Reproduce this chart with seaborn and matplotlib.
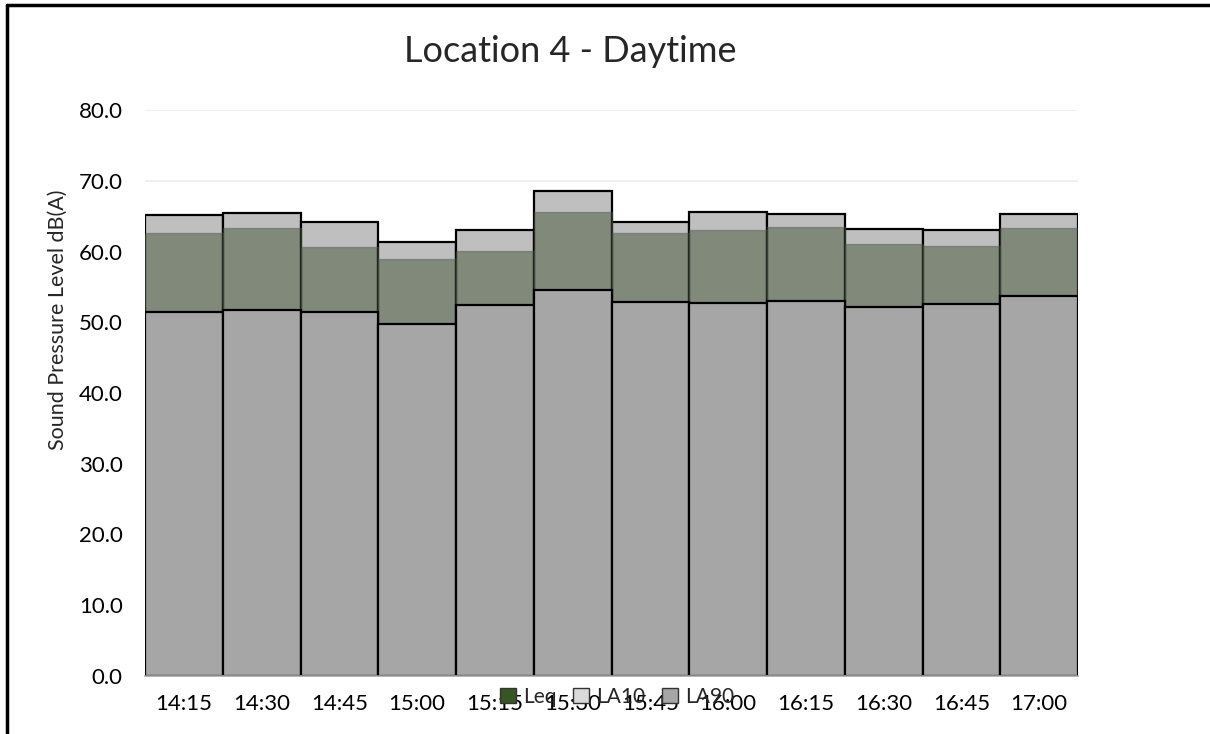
import numpy as np
import pandas as pd
import seaborn as sns
import matplotlib.pyplot as plt
from matplotlib.patches import Patch
from matplotlib.lines import Line2D

times = ['14:15', '14:30', '14:45', '15:00', '15:15', '15:30',
         '15:45', '16:00', '16:15', '16:30', '16:45', '17:00']
la10 = [65.2, 65.5, 64.1, 61.3, 63.0, 68.5, 64.1, 65.6, 65.3, 63.2, 63.1, 65.3]
leq = [62.6, 63.3, 60.6, 58.9, 60.1, 65.6, 62.6, 63.0, 63.4, 61.0, 60.8, 63.3]
la90 = [51.4, 51.7, 51.4, 49.8, 52.5, 54.6, 52.9, 52.7, 53.0, 52.2, 52.6, 53.7]

sns.set_theme(style='white')
plt.rcParams['font.family'] = ['Lato', 'DejaVu Sans']

fig = plt.figure(figsize=(12.10, 7.34), dpi=100)
ax = fig.add_axes([145/1210, 1-676/734, (1078-145)/1210, (676-110)/734])

for v in range(10, 90, 10):
    ax.axhline(v, color='#ececec', lw=1.2, zorder=0)

sns.barplot(x=times, y=la10, color='#bfbfbf', width=1.0, edgecolor='black',
            linewidth=1.6, saturation=1, ax=ax, zorder=2)
sns.barplot(x=times, y=leq, color='#354926', alpha=0.45, width=1.0,
            edgecolor='#555555', linewidth=1.0, saturation=1, ax=ax, zorder=3)
sns.barplot(x=times, y=la90, color='#a6a6a6', width=1.0, edgecolor='black',
            linewidth=1.6, saturation=1, ax=ax, zorder=4)

ax.set_xlim(-0.5, 11.5)
ax.set_ylim(0, 80)
ax.set_yticks(np.arange(0, 90, 10))
ax.set_yticklabels([f'{v:.1f}' for v in range(0, 90, 10)])
ax.tick_params(axis='both', length=0, labelsize=16, colors='#000000')
ax.tick_params(axis='y', pad=16)
ax.tick_params(axis='x', pad=13)
ax.set_ylabel('Sound Pressure Level dB(A)', fontsize=15.5)
ax.yaxis.set_label_coords(-(145 - 68)/933, 1 - (320 - 110)/566)
ax.set_xlabel('')
for s in ['top', 'right', 'left']:
    ax.spines[s].set_visible(False)
ax.spines['bottom'].set_color('#a6a6a6')
ax.spines['bottom'].set_linewidth(1.2)
ax.spines['bottom'].set_zorder(5)

fig.text(570/1210, 1-52/734, 'Location 4 - Daytime', ha='center', va='center',
         fontsize=26)

handles = [Patch(facecolor='#375623', edgecolor='#333333', label='Leq'),
           Patch(facecolor='#d9d9d9', edgecolor='#333333', label='LA10'),
           Patch(facecolor='#a6a6a6', edgecolor='#333333', label='LA90')]
fig.legend(handles=handles, loc='center', bbox_to_anchor=(617/1210, 1-697/734),
           ncol=3, frameon=False, fontsize=15, handlelength=0.75, handleheight=0.75,
           handletextpad=0.35, columnspacing=0.8)

# chart border (top and left visible in frame)
fig.add_artist(Line2D([7/1210, 1.0], [1-5/734, 1-5/734], color='black', lw=2.5,
                      transform=fig.transFigure))
fig.add_artist(Line2D([7/1210, 7/1210], [0.0, 1-5/734], color='black', lw=2.5,
                      transform=fig.transFigure))

fig.savefig('out.png', dpi=100)
